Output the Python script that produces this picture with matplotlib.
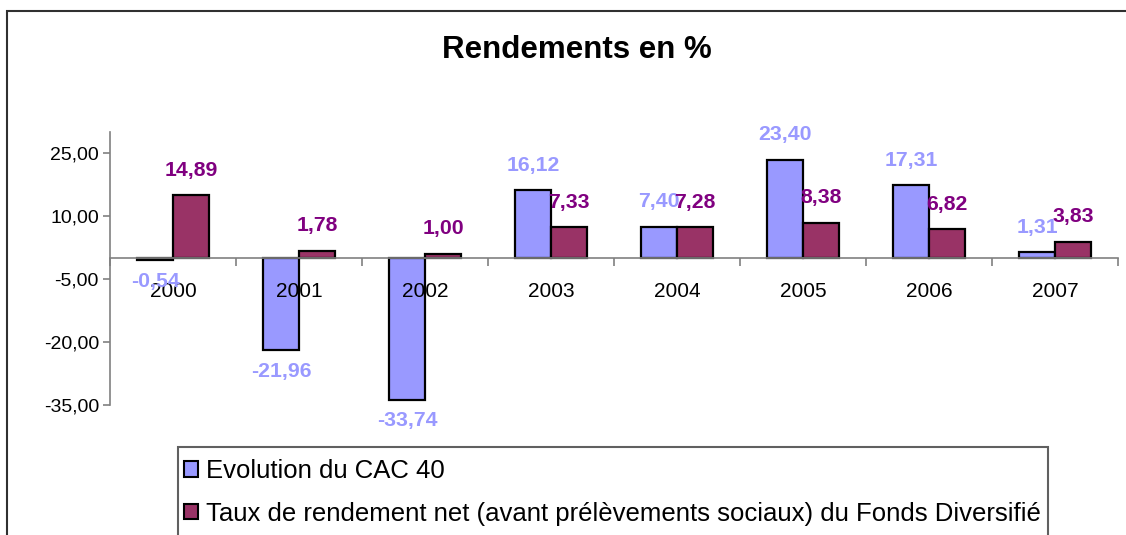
import numpy as np
import matplotlib
matplotlib.use("Agg")
import matplotlib.pyplot as plt
from matplotlib.patches import Rectangle, Patch

plt.rcParams['font.family'] = ['Liberation Sans', 'DejaVu Sans']

years = ["2000", "2001", "2002", "2003", "2004", "2005", "2006", "2007"]
cac40 = [-0.54, -21.96, -33.74, 16.12, 7.40, 23.40, 17.31, 1.31]
fonds = [14.89, 1.78, 1.00, 7.33, 7.28, 8.38, 6.82, 3.83]
yticks = [-35, -20, -5, 10, 25]
title = "Rendements en %"
label_cac = "Evolution du CAC 40"
label_fonds = "Taux de rendement net (avant prélèvements sociaux) du Fonds Diversifié"

W, H = 1126, 535
fig = plt.figure(figsize=(W / 100, H / 100), dpi=100)

def fx(px):
    return px / W

def fy(py):
    return 1 - py / H

# outer chart frame
fig.patches.append(Rectangle((fx(7), fy(560)), fx(1130) - fx(7), fy(11) - fy(560),
                             transform=fig.transFigure, fill=False,
                             edgecolor='#303030', linewidth=1.5))

fig.text(fx(577), fy(50), title, ha='center', va='center',
         fontsize=22.5, fontweight='bold')

left, right, top, bottom = 110, 1118, 132, 405
ax = fig.add_axes([fx(left), fy(bottom), fx(right) - fx(left), fy(top) - fy(bottom)])

x = np.arange(len(years))
w = 1 / 3.5
c_cac = '#9999FF'
c_fonds = '#993366'
ax.bar(x - w / 2, cac40, w, color=c_cac, edgecolor='black', linewidth=1.6, zorder=1)
ax.bar(x + w / 2, fonds, w, color=c_fonds, edgecolor='black', linewidth=1.6, zorder=1)
ax.set_axisbelow(False)

def fmt(v):
    return f"{v:.2f}".replace('.', ',')

for xi, v in zip(x - w / 2, cac40):
    ax.annotate(fmt(v), (xi, v), xytext=(0, 18 if v >= 0 else -15),
                textcoords='offset points', ha='center', va='center',
                fontsize=15.3, fontweight='bold', color='#9999FF', zorder=5)
for xi, v in zip(x + w / 2, fonds):
    ax.annotate(fmt(v), (xi, v), xytext=(0, 18 if v >= 0 else -15),
                textcoords='offset points', ha='center', va='center',
                fontsize=15.3, fontweight='bold', color='#800080', zorder=5)

ax.set_xlim(-0.5, len(years) - 0.5)
ax.set_ylim(-35, 30)
ax.set_yticks(yticks)
ax.set_yticklabels([fmt(t) for t in yticks])
ax.tick_params(axis='y', direction='out', length=5, color='#808080', width=1.2, pad=3,
               labelsize=14)

ax.set_xticks(np.arange(-0.5, len(years), 1))
ax.set_xticklabels([])
ax.tick_params(axis='x', which='major', direction='out', length=6, color='#808080', width=1.2)
ax.set_xticks(x, minor=True)
ax.set_xticklabels(years, minor=True)
ax.tick_params(axis='x', which='minor', length=0, pad=17, labelsize=15)

for s in ['top', 'right']:
    ax.spines[s].set_visible(False)
ax.spines['bottom'].set_position(('data', 0))
ax.spines['bottom'].set_color('#808080')
ax.spines['bottom'].set_linewidth(1.2)
ax.spines['left'].set_color('#808080')
ax.spines['left'].set_linewidth(1.2)
ax.patch.set_alpha(0)

# legend box (extends beyond bottom of figure)
fig.patches.append(Rectangle((fx(178), fy(560)), fx(1048) - fx(178), fy(447) - fy(560),
                             transform=fig.transFigure, fill=False,
                             edgecolor='#606060', linewidth=1.5))
handles = [Patch(facecolor=c_cac, edgecolor='black', linewidth=1.5),
           Patch(facecolor=c_fonds, edgecolor='black', linewidth=1.5)]
fig.legend(handles, [label_cac, label_fonds], loc='upper left',
           bbox_to_anchor=(fx(184), fy(459)), frameon=False, fontsize=18.5,
           handlelength=0.55, handleheight=0.55, handletextpad=0.3,
           labelspacing=0.72, borderpad=0.0, borderaxespad=0)

fig.savefig("out.png", dpi=100)
